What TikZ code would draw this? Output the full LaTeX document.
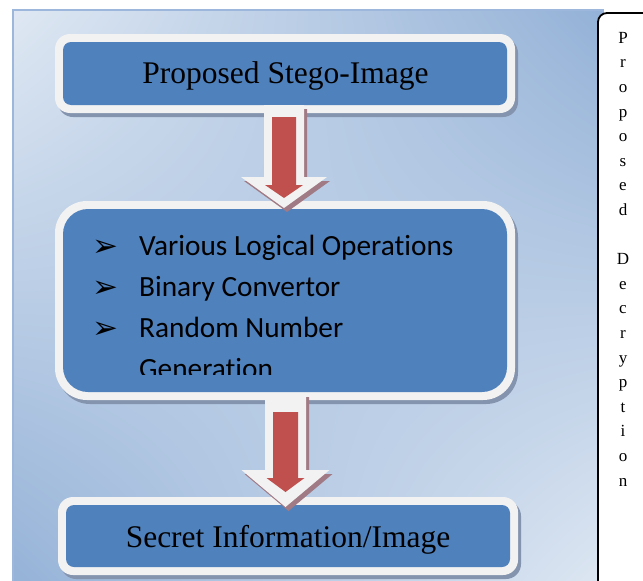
\documentclass[tikz,border=0pt]{standalone}
\usepackage{fontspec}
\setmainfont{Liberation Serif}
\newfontfamily\calibrifont[Ligatures=NoCommon]{Carlito}
\newfontfamily\dejavufont{DejaVu Sans}
\usetikzlibrary{calc,shadows,shadings}
\definecolor{boxblue}{HTML}{4F81BD}
\definecolor{arrred}{HTML}{C0504D}
\definecolor{rimwhite}{HTML}{F2F2F2}
\definecolor{boxshadow}{HTML}{8494AE}
\definecolor{arrshadow}{HTML}{A07A84}
\definecolor{panelborder}{HTML}{9CB6DC}
\definecolor{panellight}{HTML}{DFE8F3}
\definecolor{paneldark}{HTML}{93B1D7}
\newcommand\blockarrow[6]{%
  \path[#1] ($(#2)+(-#4,0)$) -- ($(#2)+(#4,0)$) -- ($(#3)+(#4,-#6)$) -- ($(#3)+(#5,-#6)$) -- (#3) -- ($(#3)+(-#5,-#6)$) -- ($(#3)+(-#4,-#6)$) -- cycle;}
\begin{document}
\begin{tikzpicture}[x=1pt,y=-1pt,
  flowbox/.style={fill=rimwhite, inner sep=0pt, outer sep=0pt, minimum width=460pt,
    drop shadow={shadow xshift=3pt, shadow yshift=-4pt, fill=boxshadow, opacity=1},
    path picture={\fill[boxblue, rounded corners=#1]
      ($(path picture bounding box.north west)+(8,8)$) rectangle
      ($(path picture bounding box.south east)+(-8,-8)$);}},
  whitearrow/.style={fill=rimwhite, drop shadow={shadow xshift=3pt, shadow yshift=-4pt, fill=arrshadow, opacity=1}},
  redarrow/.style={fill=arrred},
  titletext/.style={anchor=base, inner sep=0pt, font=\fontsize{31.5}{31.5}\selectfont},
  itemtext/.style={anchor=base west, inner sep=0pt, font=\calibrifont\fontsize{29.3}{29.3}\selectfont},
  bullettext/.style={anchor=base west, inner sep=0pt, font=\dejavufont\fontsize{31}{31}\selectfont},
]
\useasboundingbox (0,0) rectangle (643,581);
% background panel
\shade[upper left=panellight, upper right=paneldark, lower left=paneldark, lower right=panellight]
  (13,10) rectangle (603,595);
\draw[panelborder, line width=1.5pt] (13,10) rectangle (603,595);
% side box
\node[draw=black, line width=1.8pt, fill=white, rounded corners=9pt, anchor=north west,
  minimum width=90pt, minimum height=620pt, inner sep=0pt, outer sep=0pt] (sidebox) at (598,13) {};
\node[anchor=north, align=center, inner sep=0pt, font=\fontsize{17}{24.6}\selectfont] (sidetext) at (623,32)
  {P\\r\\o\\p\\o\\s\\e\\d\\~\\D\\e\\c\\r\\y\\p\\t\\i\\o\\n};
% boxes
\node[flowbox=8, rounded corners=15pt, minimum height=79pt] (b1) at (285,73.5) {};
\node[flowbox=25, rounded corners=32pt, minimum height=199pt] (b2) at (285,300.5) {};
\node[flowbox=8, rounded corners=15pt, minimum height=78pt] (b3) at (288,536) {};
% arrow 1
\coordinate (w1top) at ($(b1.south)+(-1,-8)$);
\coordinate (w1tip) at ($(w1top |- b2.north)+(0,7)$);
\coordinate (r1top) at ($(b1.south)+(-1,4)$);
\coordinate (r1tip) at ($(r1top |- b2.north)+(0,-3)$);
\blockarrow{whitearrow}{w1top}{w1tip}{20}{43}{31}
\blockarrow{redarrow}{r1top}{r1tip}{12}{19}{13}
% arrow 2
\coordinate (w2top) at ($(b2.south)+(0.5,-7)$);
\coordinate (w2tip) at ($(w2top |- b3.north)+(0,10)$);
\coordinate (r2top) at ($(b2.south)+(0.5,12)$);
\coordinate (r2tip) at ($(r2top |- b3.north)+(0,-5)$);
\blockarrow{whitearrow}{w2top}{w2tip}{20.5}{44}{37}
\blockarrow{redarrow}{r2top}{r2tip}{12.5}{19}{14}
% texts
\node[titletext] (t1) at (285.5,83) {Proposed Stego-Image};
\node[titletext] (t3) at (288,547) {Secret Information/Image};
\begin{scope}
\clip (60,200) rectangle (515,374);
\node[bullettext] (k1) at (92,256.5) {➢};
\node[bullettext] (k2) at (92,297.5) {➢};
\node[bullettext] (k3) at (92,338.5) {➢};
\node[itemtext] (i1) at (139,255) {Various Logical Operations};
\node[itemtext] (i2) at (139,296) {Binary Convertor};
\node[itemtext] (i3) at (139,337) {Random Number};
\node[itemtext] (i4) at (139,378) {Generation};
\end{scope}
\end{tikzpicture}
\end{document}
